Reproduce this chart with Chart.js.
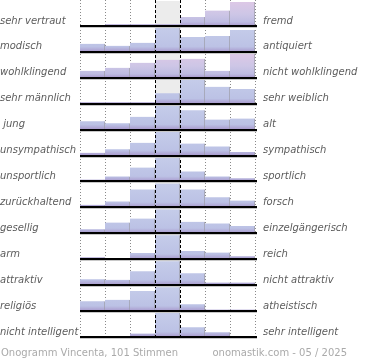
<!DOCTYPE html>
<html><head><meta charset="utf-8">
<script src="https://cdn.jsdelivr.net/npm/chart.js@4/dist/chart.umd.min.js"></script>
<style>html,body{margin:0;padding:0;background:#fff}#wrap{width:370px;height:360px;position:relative}</style>
</head><body><div id="wrap"><canvas id="c" width="370" height="360"></canvas></div>
<script>
const categories = ['1','2','3','4','5','6','7'];
const leftLabels = ['sehr vertraut','modisch','wohlklingend','sehr männlich',' jung','unsympathisch','unsportlich','zurückhaltend','gesellig','arm','attraktiv','religiös','nicht intelligent'];
const rightLabels = ['fremd','antiquiert','nicht wohlklingend','sehr weiblich','alt','sympathisch','sportlich','forsch','einzelgängerisch','reich','nicht attraktiv','atheistisch','sehr intelligent'];
const rowVertraut = [0,3,3,3,17,29,45];
const rowModisch = [8,6,9,24,15,16,22];
const rowWohlklingend = [7,10,15,18,19,7,24];
const rowMaennlich = [2,2,2,15,34,24,21];
const rowJung = [9,7,14,26,21,11,12];
const rowUnsympathisch = [4,9,18,34,17,13,5];
const rowUnsportlich = [3,8,22,38,16,8,5];
const rowZurueckhaltend = [3,7,21,28,21,12,8];
const rowGesellig = [5,13,18,29,14,12,9];
const rowArm = [4,2,12,47,16,13,6];
const rowAttraktiv = [9,8,21,36,18,4,4];
const rowReligioes = [13,15,27,32,9,2,2];
const rowIntelligent = [0,2,8,56,23,11,0];
const rows = [rowVertraut,rowModisch,rowWohlklingend,rowMaennlich,rowJung,rowUnsympathisch,rowUnsportlich,rowZurueckhaltend,rowGesellig,rowArm,rowAttraktiv,rowReligioes,rowIntelligent];
const pinkRows = [0,2];
const footerLeft = 'Onogramm Vincenta, 101 Stimmen';
const footerRight = 'onomastik.com - 05 / 2025';

function rowFill(i){
  return (ctx) => {
    const chart = ctx.chart;
    const sc = chart.scales['y'+i];
    const pink = pinkRows.includes(i);
    if (!sc || sc.bottom === sc.top) return pink ? '#d6c6e6' : '#c3cae8';
    const g = chart.ctx.createLinearGradient(0, sc.top, 0, sc.bottom);
    if (pink) {
      g.addColorStop(0, '#dfc8e6');
      g.addColorStop(0.55, '#cdc6e6');
      g.addColorStop(0.85, '#bebce2');
      g.addColorStop(1, '#a898cc');
    } else {
      g.addColorStop(0, '#c6cdea');
      g.addColorStop(0.8, '#bcc2e5');
      g.addColorStop(1, '#a898cc');
    }
    return g;
  };
}

const scales = { x: { type:'category', labels: categories, display:false, offset:true } };
rows.forEach((r,i) => {
  scales['y'+i] = { type:'linear', position:'right', stack:'rows', stackWeight:1, weight:i, display:false, min:0, max: Math.max(...r)*26/24 };
});

const decor = {
  id:'decor',
  beforeDatasetsDraw(chart){
    const c = chart.ctx, x = chart.scales.x, area = chart.chartArea;
    const w = x.getPixelForValue(1) - x.getPixelForValue(0);
    const x0 = x.getPixelForValue(0) - w/2;
    c.save();
    rows.forEach((r,i) => {
      const sc = chart.scales['y'+i];
      c.fillStyle = '#ececec';
      c.fillRect(x0 + 3*w, sc.top + 1, w, sc.bottom - sc.top - 1);
    });
    c.strokeStyle = '#8a8a8a'; c.lineWidth = 1; c.setLineDash([1,2]);
    for (let k=0;k<=7;k++){
      if (k===3||k===4) continue;
      const px = Math.round(x0 + k*w) + 0.5;
      c.beginPath(); c.moveTo(px, area.top); c.lineTo(px, area.bottom); c.stroke();
    }
    c.restore();
  },
  afterDatasetsDraw(chart){
    const c = chart.ctx, x = chart.scales.x, area = chart.chartArea;
    const w = x.getPixelForValue(1) - x.getPixelForValue(0);
    const x0 = x.getPixelForValue(0) - w/2;
    c.save();
    c.strokeStyle = '#000'; c.lineWidth = 1; c.setLineDash([3,2]);
    [3,4].forEach(k => {
      const px = Math.round(x0 + k*w) + 0.5;
      c.beginPath(); c.moveTo(px, area.top); c.lineTo(px, area.bottom); c.stroke();
    });
    c.setLineDash([]);
    rows.forEach((r,i) => {
      const sc = chart.scales['y'+i];
      const y = Math.round(sc.bottom);
      c.strokeStyle = '#c8c8c8'; c.lineWidth = 1;
      c.beginPath(); c.moveTo(x0, y + 1.5); c.lineTo(x0 + 7*w + 2, y + 1.5); c.stroke();
      c.strokeStyle = '#000'; c.lineWidth = 2;
      c.beginPath(); c.moveTo(x0, y); c.lineTo(x0 + 7*w + 2, y); c.stroke();
    });
    c.restore();
  },
  afterDraw(chart){
    const c = chart.ctx;
    c.save();
    c.font = 'italic 10px "DejaVu Sans"';
    c.fillStyle = '#5c5c5c';
    c.textBaseline = 'middle';
    rows.forEach((r,i) => {
      const sc = chart.scales['y'+i];
      c.textAlign = 'left';
      c.fillText(leftLabels[i], 0, sc.bottom - 5);
      c.fillText(rightLabels[i], 263, sc.bottom - 5);
    });
    c.font = '10px "DejaVu Sans"';
    c.fillStyle = '#aaaaaa';
    c.textAlign = 'left';
    c.fillText(footerLeft, 1, 353);
    c.textAlign = 'right';
    c.fillText(footerRight, 347, 353);
    c.restore();
  }
};

new Chart(document.getElementById('c'), {
  type:'bar',
  data:{
    labels: categories,
    datasets: rows.map((r,i) => ({
      data: r,
      yAxisID: 'y'+i,
      xAxisID: 'x',
      grouped: false,
      barPercentage: 1,
      categoryPercentage: 1,
      backgroundColor: rowFill(i),
      borderColor: '#9c9ca6',
      borderWidth: {top:0, right:1, bottom:0, left:0},
      borderSkipped: false
    }))
  },
  options:{
    responsive:false,
    animation:false,
    devicePixelRatio:1,
    layout:{ padding:{ left:80, right:115, top:0, bottom:23 } },
    plugins:{ legend:{display:false}, tooltip:{enabled:false} },
    scales
  },
  plugins:[decor]
});
</script>
</body></html>
